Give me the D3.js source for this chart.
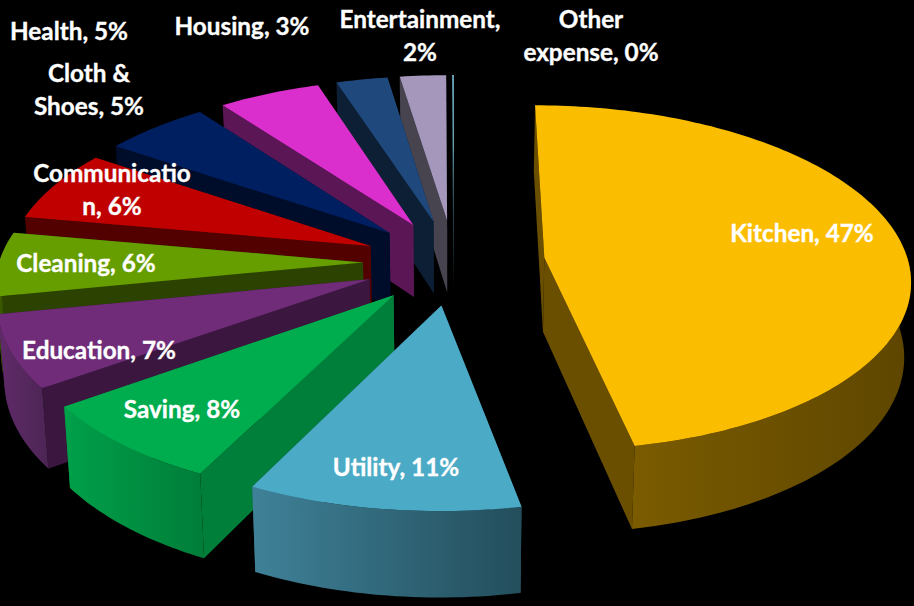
<!DOCTYPE html>
<html>
<head>
<meta charset="utf-8">
<script src="https://cdn.jsdelivr.net/npm/d3@7"></script>
<style>
  html, body { margin: 0; background: #000; }
  svg { display: block; }
  text { font-family: Lato, "Open Sans", sans-serif; font-weight: 700; fill: #fff; stroke: #fff; stroke-width: 0.35px; }
</style>
</head>
<body>
<svg></svg>
<script>
// Data
const categories = ["Kitchen", "Utility", "Saving", "Education", "Cleaning", "Communication",
                    "Cloth & Shoes", "Health", "Housing", "Entertainment", "Other expense"];
const values = [46.91, 10.48, 7.73, 6.75, 5.97, 6.65, 5.35, 5.15, 2.6, 2.33, 0.08];
const labelLines = [["Kitchen, 47%"], ["Utility, 11%"], ["Saving, 8%"], ["Education, 7%"], ["Cleaning, 6%"],
                    ["Communicatio", "n, 6%"], ["Cloth &", "Shoes, 5%"], ["Health, 5%"], ["Housing, 3%"],
                    ["Entertainment,", "2%"], ["Other", "expense, 0%"]];

// Styles
const topColors = ["#fbbd00", "#4baac5", "#00ad4e", "#702c78", "#669e00", "#c00000",
                   "#001f60", "#da2fcd", "#1f497d", "#a596bc", "#7fc3d8"];
const wallColors = ["#6a4f00", "#2a5a6a", "#007f3a", "#3b173f", "#2c4200", "#520000",
                    "#000d2a", "#5b1655", "#0d1f35", "#47434f", "#2f5560"];
const rimLeft = ["#7a5b00", "#3f8198", "#00a04a", "#602a6a", "#4a7000", "#7a0000",
                 "#001540", "#8a2080", "#14304f", "#6a6378", "#4d7d8c"];
const rimRight = ["#5e4600", "#234e5c", "#007d39", "#4c2554", "#2c4200", "#520000",
                  "#000d2a", "#5b1655", "#0d1f35", "#47434f", "#2f5560"];
const labelPos = [[802, 234], [396, 468], [182, 410], [99, 351], [86, 264], [112, 174],
                  [89, 74], [69, 32], [242, 27], [420, 20], [591, 20]];

// Layout
const width = 914, height = 606;
const cx = 454, cy = 262;
const radiusX = 364, scaleY = 171;      // screen size of one pie radius
const perspective = 0.115;              // near side of the pie is bigger
const depth = 74, converge = 0.985;     // extrusion
const explode = 0.25;
const rotation = 0;

const svg = d3.select("svg").attr("width", width).attr("height", height);
const defs = svg.append("defs");

const xScale = d3.scaleLinear().domain([-1, 1]).range([cx - radiusX, cx + radiusX]);
const yScale = d3.scaleLinear().domain([-1, 1]).range([cy - scaleY, cy + scaleY]);

// ground plane point -> screen, z = 0 is the top face and z = 1 the bottom
function project(gx, gy, z) {
  const s = 1 / (1 - perspective * gy);
  const x = xScale(gx * s);
  const y = yScale(gy * s);
  if (!z) return [x, y];
  return [cx + (x - cx) * converge, y + depth * s];
}

const pie = d3.pie().sort(null).value(function(d) { return d; })
    .startAngle(rotation).endAngle(rotation + 2 * Math.PI);
const line = d3.line();

const slices = pie(values).map(function(d, i) {
  const mid = (d.startAngle + d.endAngle) / 2;
  const ox = explode * Math.sin(mid), oy = -explode * Math.cos(mid);
  const point = function(a, r, z) {
    return project(ox + r * Math.sin(a), oy - r * Math.cos(a), z);
  };
  return {i: i, start: d.startAngle, end: d.endAngle, mid: mid, oy: oy, point: point};
});

function arcAngles(a0, a1) {
  const n = Math.max(2, Math.ceil((a1 - a0) / 0.02));
  return d3.range(n + 1).map(function(k) { return a0 + (a1 - a0) * k / n; });
}

function radialWall(s, a) {
  return line([s.point(a, 0, 0), s.point(a, 1, 0), s.point(a, 1, 1), s.point(a, 0, 1)]) + "Z";
}

// the part of the outer rim that faces the viewer
function rimPath(s) {
  const front = arcAngles(s.start, s.end).filter(function(a) { return Math.cos(a) < 0.02; });
  if (front.length < 2) return null;
  const upper = front.map(function(a) { return s.point(a, 1, 0); });
  const lower = front.map(function(a) { return s.point(a, 1, 1); }).reverse();
  return line(upper.concat(lower)) + "Z";
}

function topPath(s) {
  const rim = arcAngles(s.start, s.end).map(function(a) { return s.point(a, 1, 0); });
  return line([s.point(0, 0, 0)].concat(rim)) + "Z";
}

// far slices first so the near ones paint over them
const ordered = slices.slice().sort(function(a, b) { return a.oy - b.oy; });

const groups = svg.selectAll("g.slice")
    .data(ordered)
    .enter()
    .append("g")
    .attr("class", "slice");

groups.each(function(s) {
  const g = d3.select(this);
  g.append("path").attr("d", radialWall(s, s.start)).attr("fill", wallColors[s.i]);
  g.append("path").attr("d", radialWall(s, s.end)).attr("fill", wallColors[s.i]);

  const rim = rimPath(s);
  if (rim) {
    const grad = defs.append("linearGradient").attr("id", "rim" + s.i);
    grad.append("stop").attr("offset", 0).attr("stop-color", rimLeft[s.i]);
    grad.append("stop").attr("offset", 1).attr("stop-color", rimRight[s.i]);
    g.append("path").attr("d", rim).attr("fill", "url(#rim" + s.i + ")");
  }
  g.append("path").attr("d", topPath(s)).attr("fill", topColors[s.i]);
});

// Labels
const labels = svg.selectAll("text.label")
    .data(labelLines)
    .enter()
    .append("text")
    .attr("class", "label")
    .attr("text-anchor", "middle")
    .attr("font-size", 24.3);

labels.selectAll("tspan")
    .data(function(d, i) { return d.map(function(t) { return {t: t, i: i}; }); })
    .enter()
    .append("tspan")
    .attr("x", function(d) { return labelPos[d.i][0]; })
    .attr("y", function(d, k) { return labelPos[d.i][1] + 8 + k * 33; })
    .text(function(d) { return d.t; });
</script>
</body>
</html>
